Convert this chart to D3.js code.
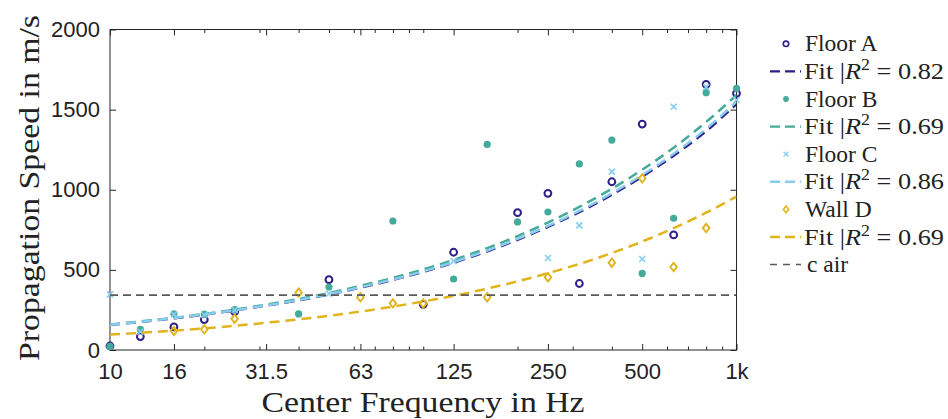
<!DOCTYPE html>
<html>
<head>
<meta charset="utf-8">
<script src="https://cdn.jsdelivr.net/npm/d3@7"></script>
<style>
  html, body { margin: 0; padding: 0; background: #fff; }
  svg { display: block; }
</style>
</head>
<body>
<script>
// ---------------- DATA ----------------
const freqs = [10, 12.5, 16, 20, 25, 31.5, 40, 50, 63, 80, 100, 125, 160, 200, 250, 315, 400, 500, 630, 800, 1000];

const floorA = [25, 84, 144, 190, 240, null, null, 439, null, null, 285, 610, null, 857, 978, 415, 1050, 1410, 718, 1658, 1602];
const floorB = [22, 129, 226, 224, 252, null, 225, 393, null, 805, null, 443, 1283, 799, 861, 1161, 1310, 478, 822, 1606, 1633];
const floorC = [347, 114, 222, 220, 250, null, null, 351, null, null, null, 555, null, null, 574, 778, 1113, 568, 1518, 1640, 1560];
const wallD  = [null, null, 118, 129, 195, null, 358, null, 329, 291, 290, null, 329, null, 454, null, 545, 1071, 518, 761, null];

const fitA = [157, 175, 198, 221, 247, 277, 310, 347, 389, 437, 488, 545, 616, 688, 768, 861, 969, 1082, 1213, 1366, 1535];
const fitB = [159, 178, 201, 225, 252, 283, 318, 356, 400, 450, 503, 562, 636, 711, 795, 893, 1006, 1125, 1262, 1423, 1591];
const fitC = [158, 176, 199, 222, 248, 278, 312, 349, 392, 440, 491, 549, 620, 693, 774, 868, 978, 1092, 1225, 1380, 1550];
const fitD = [96, 107, 121, 135, 151, 170, 191, 214, 240, 271, 303, 338, 383, 428, 479, 537, 605, 677, 760, 857, 958];

const cAir = 343;

const seriesNames = ["Floor A", "Floor B", "Floor C", "Wall D"];
const r2Values = ["0.82", "0.69", "0.86", "0.69"];

const xTickValues = [10, 16, 31.5, 63, 125, 250, 500, 1000];
const xTickLabels = ["10", "16", "31.5", "63", "125", "250", "500", "1k"];
const xMinorTicks = [20, 30, 40, 50, 60, 70, 80, 90, 100, 200, 300, 400, 600, 700, 800, 900];
const yTickValues = [0, 500, 1000, 1500, 2000];

// ---------------- STYLE ----------------
const colors = ["#2f1d8a", "#44aa99", "#88ccee", "#e0b41a"];
const markerTypes = ["circle", "dot", "x", "diamond"];
const axisColor = "#262626";

const W = 948, H = 419;
const L = 110, R = 736.5, T = 29.5, B = 350;

const svg = d3.select("body").append("svg")
  .attr("width", W).attr("height", H)
  .attr("viewBox", `0 0 ${W} ${H}`);

svg.append("rect").attr("width", W).attr("height", H).attr("fill", "#fff");

const x = d3.scaleLog().domain([10, 1000]).range([L, R]);
const y = d3.scaleLinear().domain([0, 2000]).range([B, T]);

svg.append("defs").append("clipPath").attr("id", "plotclip")
  .append("rect").attr("x", L).attr("y", T).attr("width", R - L).attr("height", B - T);

// ---------------- AXES ----------------
function styleAxis(g) {
  g.select(".domain").remove();
  g.selectAll(".tick line").attr("stroke", axisColor).attr("stroke-width", 1);
  g.selectAll(".tick text")
    .attr("fill", "#222")
    .style("font-family", "'Liberation Sans', Arial, sans-serif")
    .style("font-size", "22px");
}

svg.append("g").attr("transform", `translate(0,${B})`)
  .call(d3.axisBottom(x).tickValues(xTickValues)
    .tickFormat((d, i) => xTickLabels[i]).tickSize(-6).tickPadding(13))
  .call(styleAxis);
svg.append("g").attr("transform", `translate(0,${B})`)
  .call(d3.axisBottom(x).tickValues(xMinorTicks).tickFormat("").tickSize(-3.5))
  .call(styleAxis);
svg.append("g").attr("transform", `translate(0,${T})`)
  .call(d3.axisTop(x).tickValues(xTickValues).tickFormat("").tickSize(-6))
  .call(styleAxis);
svg.append("g").attr("transform", `translate(0,${T})`)
  .call(d3.axisTop(x).tickValues(xMinorTicks).tickFormat("").tickSize(-3.5))
  .call(styleAxis);
svg.append("g").attr("transform", `translate(${L},0)`)
  .call(d3.axisLeft(y).tickValues(yTickValues).tickFormat(d3.format("d")).tickSize(-6).tickPadding(10))
  .call(styleAxis);
svg.append("g").attr("transform", `translate(${R},0)`)
  .call(d3.axisRight(y).tickValues(yTickValues).tickFormat("").tickSize(-6))
  .call(styleAxis);

svg.append("rect").attr("x", L).attr("y", T).attr("width", R - L).attr("height", B - T)
  .attr("fill", "none").attr("stroke", axisColor).attr("stroke-width", 1);

// ---------------- MARKS ----------------
function drawMarker(g, type, color, cx, cy, k) {
  k = k || 1;
  if (type === "circle") {
    g.append("circle").attr("cx", cx).attr("cy", cy).attr("r", 3.4 * k)
      .attr("fill", "none").attr("stroke", color).attr("stroke-width", 2 * k);
  } else if (type === "dot") {
    g.append("circle").attr("cx", cx).attr("cy", cy).attr("r", 3.6 * k).attr("fill", color);
  } else if (type === "x") {
    const a = 3 * k;
    g.append("path").attr("transform", `translate(${cx},${cy})`)
      .attr("d", `M${-a},${-a}L${a},${a}M${-a},${a}L${a},${-a}`)
      .attr("stroke", color).attr("stroke-width", 1.7 * k).attr("fill", "none");
  } else if (type === "diamond") {
    const w = 3.3 * k, h = 4.2 * k;
    g.append("path").attr("transform", `translate(${cx},${cy})`)
      .attr("d", `M0,${-h}L${w},0L0,${h}L${-w},0Z`)
      .attr("stroke", color).attr("stroke-width", 1.9 * k).attr("fill", "none");
  }
}

const scatterData = [floorA, floorB, floorC, wallD];
const fitData = [fitA, fitB, fitC, fitD];

const lineGen = d3.line()
  .defined(d => d[1] != null)
  .x(d => x(d[0])).y(d => y(d[1]))
  .curve(d3.curveMonotoneX);

const plot = svg.append("g");

scatterData.forEach((vals, s) => {
  const g = plot.append("g");
  vals.forEach((v, i) => {
    if (v != null) drawMarker(g, markerTypes[s], colors[s], x(freqs[i]), y(v));
  });
  plot.append("path")
    .attr("clip-path", "url(#plotclip)")
    .attr("d", lineGen(freqs.map((f, i) => [f, fitData[s][i]])))
    .attr("fill", "none").attr("stroke", colors[s])
    .attr("stroke-width", 2.5).attr("stroke-dasharray", "10,6");
});

plot.append("line").attr("clip-path", "url(#plotclip)")
  .attr("x1", x(10)).attr("x2", x(1000)).attr("y1", y(cAir)).attr("y2", y(cAir))
  .attr("stroke", "#5a5a5a").attr("stroke-width", 1.8).attr("stroke-dasharray", "8,5");

// ---------------- LABELS ----------------
const serif = "'Liberation Serif', 'Times New Roman', serif";

svg.append("text")
  .attr("x", 423).attr("y", 412)
  .attr("text-anchor", "middle")
  .attr("textLength", 323).attr("lengthAdjust", "spacingAndGlyphs")
  .style("font-family", serif).style("font-size", "29px").attr("fill", "#222")
  .text("Center Frequency in Hz");

svg.append("text")
  .attr("transform", "translate(39,188) rotate(-90)")
  .attr("text-anchor", "middle")
  .attr("textLength", 346).attr("lengthAdjust", "spacingAndGlyphs")
  .style("font-family", serif).style("font-size", "29px").attr("fill", "#222")
  .text("Propagation Speed in m/s");

// ---------------- LEGEND ----------------
const lg = svg.append("g");
const rowY = i => 43.8 + i * 27.6;
const lgFont = "23.5px";

seriesNames.forEach((name, s) => {
  const y1 = rowY(2 * s), y2 = rowY(2 * s + 1);
  drawMarker(lg, markerTypes[s], colors[s], 786, y1, 0.8);
  lg.append("text").attr("x", 805).attr("y", y1 + 7.5)
    .style("font-family", serif).style("font-size", lgFont).attr("fill", "#222")
    .text(name);

  lg.append("line").attr("x1", 770).attr("x2", 801).attr("y1", y2).attr("y2", y2)
    .attr("stroke", colors[s]).attr("stroke-width", 2.4).attr("stroke-dasharray", "10,5");
  const t = lg.append("text").attr("x", 804).attr("y", y2 + 7.5)
    .attr("textLength", 140).attr("lengthAdjust", "spacingAndGlyphs")
    .style("font-family", serif).style("font-size", lgFont).attr("fill", "#222");
  t.append("tspan").text("Fit |");
  t.append("tspan").style("font-style", "italic").text("R");
  t.append("tspan").attr("dy", -9).style("font-size", "16px").text("2");
  t.append("tspan").attr("dy", 9).text(" = " + r2Values[s]);
});

const yc = rowY(8);
lg.append("line").attr("x1", 770).attr("x2", 801).attr("y1", yc).attr("y2", yc)
  .attr("stroke", "#5a5a5a").attr("stroke-width", 1.5).attr("stroke-dasharray", "7,6");
lg.append("text").attr("x", 807).attr("y", yc + 7.5)
  .style("font-family", serif).style("font-size", lgFont).attr("fill", "#222")
  .text("c air");
</script>
</body>
</html>
